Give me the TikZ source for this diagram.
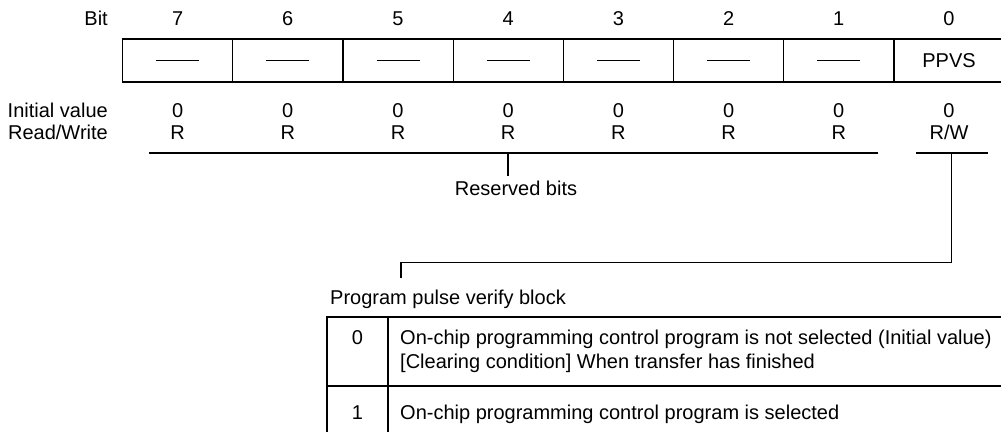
\documentclass[tikz,border=0pt]{standalone}
\usepackage{fontspec}
\setmainfont{Liberation Sans}
\begin{document}
\begin{tikzpicture}[x=1pt,y=-1pt,
  txt/.style={inner sep=0pt, text height=14.3pt, text depth=0pt, font=\fontsize{20}{24}\selectfont},
  ln/.style={line width=1.2pt},
  cell/.style={draw, line width=1.2pt, minimum width=110.2pt, minimum height=43pt, inner sep=0pt},
  tcell/.style={draw, line width=1.2pt, inner sep=0pt}]
\useasboundingbox (0,0) rectangle (1001,431);
% register cells
\foreach \i in {0,...,7}{
  \pgfmathsetmacro{\cx}{177.6+110.2*\i}
  \pgfmathtruncatemacro{\b}{7-\i}
  \node[cell] (c\b) at (\cx,60.5) {};
  \node[txt] (n\b) at (\cx,18) {\b};
  \node[txt] (iv\b) at (\cx,110) {0};
}
\foreach \b in {7,...,1}{
  \draw[ln] ([xshift=-21.5pt]c\b.center) -- ([xshift=21.5pt]c\b.center);
  \node[txt] (rw\b) at (n\b |- 0,132) {R};
}
\node[txt] (ppvs) at (c0.center) {PPVS};
\node[txt] (rw0) at (n0 |- 0,132) {R/W};
\node[txt, anchor=east] (bitlbl) at (108,18) {Bit};
\node[txt, anchor=east] (ivlbl) at (108,110) {Initial value};
\node[txt, anchor=east] (rwlbl) at (108,132) {Read/Write};
% brackets
\coordinate (r1) at (149,153);
\coordinate (r2) at (878,153);
\coordinate (rm) at (508,153);
\coordinate (w1) at (916,153);
\coordinate (w2) at (988,153);
\coordinate (wm) at (951.7,153);
\draw[ln] (r1) -- (r2);
\draw[ln] (w1) -- (w2);
\node[txt] (resv) at (516,188) {Reserved bits};
\draw[ln] (rm) -- (rm |- 0,176);
\coordinate (tick) at (401,277.5);
\draw[ln] (wm) |- (401,262.5) -- (tick);
\node[txt, anchor=west] (ppvb) at (330,297) {Program pulse verify block};
% table
\draw[ln] (327,445) -- (327,317) -- (1012,317);
\draw[ln] (388,317) -- (388,445);
\draw[ln] (327,386) -- (1012,386);
\node[txt] (v0) at (357.5,337) {0};
\node[txt, anchor=west] (d0a) at (400,337) {On-chip programming control program is not selected (Initial value)};
\node[txt, anchor=west] (d0b) at (400,361) {[Clearing condition] When transfer has finished};
\node[txt] (v1) at (357.5,412) {1};
\node[txt, anchor=west] (d1) at (400,412) {On-chip programming control program is selected};
\end{tikzpicture}
\end{document}
